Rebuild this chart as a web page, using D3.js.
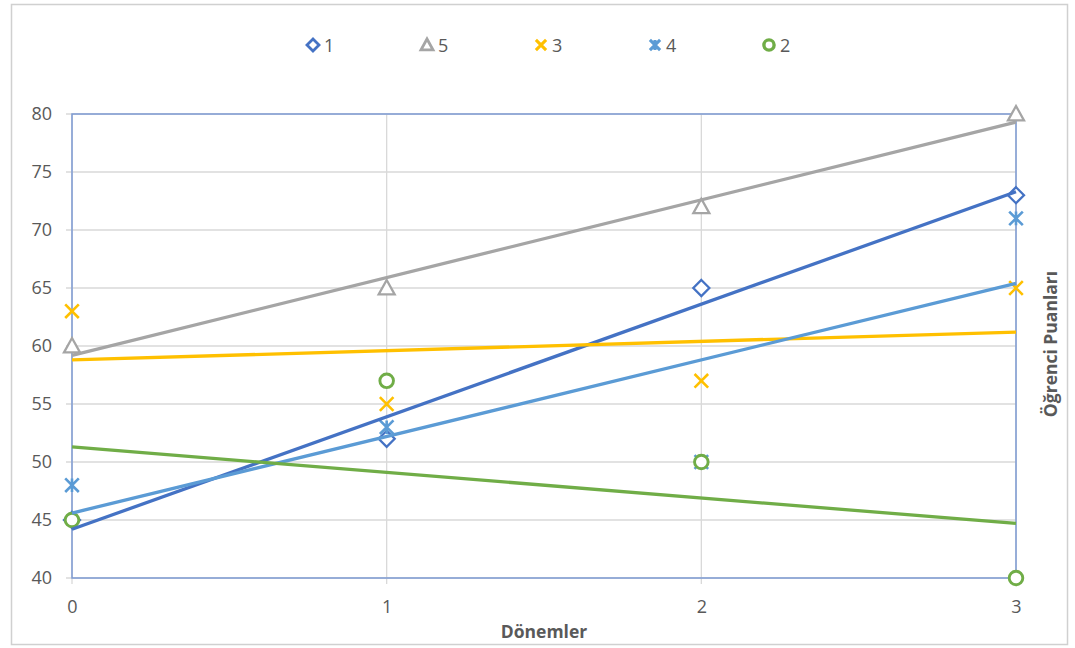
<!DOCTYPE html>
<html>
<head>
<meta charset="utf-8">
<script src="https://cdn.jsdelivr.net/npm/d3@7"></script>
<style>
  html, body { margin: 0; padding: 0; background: #fff; }
  svg { display: block; font-family: "Open Sans", "Liberation Sans", sans-serif; }
</style>
</head>
<body>
<svg id="chart" width="1075" height="648"></svg>
<script>
// Student scores per term, one array per series
const periods = [0, 1, 2, 3];
const series1 = [45, 52, 65, 73];
const series5 = [60, 65, 72, 80];
const series3 = [63, 55, 57, 65];
const series4 = [48, 53, 50, 71];
const series2 = [45, 57, 50, 40];
const yTicks = [40, 45, 50, 55, 60, 65, 70, 75, 80];
const legendOrder = ["1", "5", "3", "4", "2"];

const seriesList = [
  { name: "1", values: series1, color: "#4472C4", symbol: "diamond" },
  { name: "5", values: series5, color: "#A5A5A5", symbol: "triangle" },
  { name: "3", values: series3, color: "#FFC000", symbol: "cross" },
  { name: "4", values: series4, color: "#5B9BD5", symbol: "star" },
  { name: "2", values: series2, color: "#70AD47", symbol: "circle" }
];

const svg = d3.select("#chart");
const plot = { left: 72, right: 1016, top: 114, bottom: 578 };

// chart border
svg.append("rect").attr("x", 11.5).attr("y", 4.5).attr("width", 1056).attr("height", 640)
  .attr("fill", "#fff").attr("stroke", "#d0d0d0").attr("stroke-width", 1.5);

const x = d3.scaleLinear().domain([0, 3]).range([plot.left, plot.right]);
const y = d3.scaleLinear().domain([40, 80]).range([plot.bottom, plot.top]);

// gridlines
const grid = svg.append("g");
grid.selectAll("line.h").data(yTicks).join("line")
  .attr("x1", plot.left - 6).attr("x2", plot.right)
  .attr("y1", d => y(d)).attr("y2", d => y(d))
  .attr("stroke", "#d9d9d9").attr("stroke-width", 1.3);
grid.selectAll("line.v").data(periods).join("line")
  .attr("x1", d => x(d)).attr("x2", d => x(d))
  .attr("y1", plot.top).attr("y2", plot.bottom + 6)
  .attr("stroke", "#d9d9d9").attr("stroke-width", 1.3);

// plot frame (axis lines)
svg.append("rect").attr("x", plot.left).attr("y", plot.top)
  .attr("width", plot.right - plot.left).attr("height", plot.bottom - plot.top)
  .attr("fill", "none").attr("stroke", "#7d9bd3").attr("stroke-width", 1.5);

// y axis labels
const yAxis = d3.axisLeft(y).tickValues(yTicks).tickSize(0).tickPadding(20);
const gy = svg.append("g").attr("transform", `translate(${plot.left},0)`).call(yAxis);
gy.select(".domain").remove();
gy.selectAll("text").attr("font-size", 18).attr("fill", "#595959")
  .attr("font-family", "'Open Sans', sans-serif");

// x axis labels
const xAxis = d3.axisBottom(x).tickValues(periods).tickFormat(d3.format("d")).tickSize(0).tickPadding(22);
const gx = svg.append("g").attr("transform", `translate(0,${plot.bottom})`).call(xAxis);
gx.select(".domain").remove();
gx.selectAll("text").attr("font-size", 18).attr("fill", "#595959")
  .attr("font-family", "'Open Sans', sans-serif");

// axis titles
svg.append("text").attr("x", (plot.left + plot.right) / 2).attr("y", 638)
  .attr("text-anchor", "middle").attr("font-size", 17.5).attr("font-weight", "bold")
  .attr("fill", "#595959").text("Dönemler");
svg.append("text").attr("transform", `translate(1057,${(plot.top + plot.bottom) / 2 - 2}) rotate(-90)`)
  .attr("text-anchor", "middle").attr("font-size", 17.5).attr("font-weight", "bold")
  .attr("fill", "#595959").text("Öğrenci Puanları");

// least-squares trend line for a series
function trend(values) {
  const mx = d3.mean(periods), my = d3.mean(values);
  let sxy = 0, sxx = 0;
  periods.forEach((p, i) => { sxy += (p - mx) * (values[i] - my); sxx += (p - mx) ** 2; });
  const slope = sxy / sxx;
  const intercept = my - slope * mx;
  return [[0, intercept], [3, intercept + slope * 3]];
}

// marker drawing
function drawMarker(g, type, color, cx, cy, s, sw) {
  if (type === "diamond") {
    g.append("path").attr("d", `M${cx},${cy - s}L${cx + s},${cy}L${cx},${cy + s}L${cx - s},${cy}Z`)
      .attr("fill", "#fff").attr("stroke", color).attr("stroke-width", sw);
  } else if (type === "triangle") {
    g.append("path").attr("d", `M${cx},${cy - s}L${cx + s},${cy + s * 0.8}L${cx - s},${cy + s * 0.8}Z`)
      .attr("fill", "#fff").attr("stroke", color).attr("stroke-width", sw).attr("stroke-linejoin", "miter");
  } else if (type === "cross") {
    const r = s * 0.85;
    g.append("path").attr("d", `M${cx - r},${cy - r}L${cx + r},${cy + r}M${cx + r},${cy - r}L${cx - r},${cy + r}`)
      .attr("stroke", color).attr("stroke-width", sw + 0.3).attr("fill", "none");
  } else if (type === "star") {
    const r = s * 0.85;
    g.append("path").attr("d", `M${cx - r},${cy - r}L${cx + r},${cy + r}M${cx + r},${cy - r}L${cx - r},${cy + r}M${cx},${cy - r}L${cx},${cy + r}`)
      .attr("stroke", color).attr("stroke-width", sw + 0.3).attr("fill", "none");
  } else if (type === "circle") {
    g.append("circle").attr("cx", cx).attr("cy", cy).attr("r", s * 0.85)
      .attr("fill", "#fff").attr("stroke", color).attr("stroke-width", sw + 0.6);
  }
}

// markers first, then trend lines on top
const marks = svg.append("g");
seriesList.forEach(s => {
  s.values.forEach((v, i) => drawMarker(marks, s.symbol, s.color, x(periods[i]), y(v), 8, 2.3));
});

const line = d3.line().x(d => x(d[0])).y(d => y(d[1]));
const lines = svg.append("g");
seriesList.forEach(s => {
  lines.append("path").datum(trend(s.values)).attr("d", line)
    .attr("fill", "none").attr("stroke", s.color).attr("stroke-width", 3.3);
});

// legend
const legendX = [313, 427, 541, 655, 769];
const lg = svg.append("g");
legendOrder.forEach((name, i) => {
  const s = seriesList.find(d => d.name === name);
  drawMarker(lg, s.symbol, s.color, legendX[i], 45, 6, 2.8);
  lg.append("text").attr("x", legendX[i] + 11).attr("y", 51.5).attr("font-size", 18)
    .attr("fill", "#595959").text(name);
});
</script>
</body>
</html>
